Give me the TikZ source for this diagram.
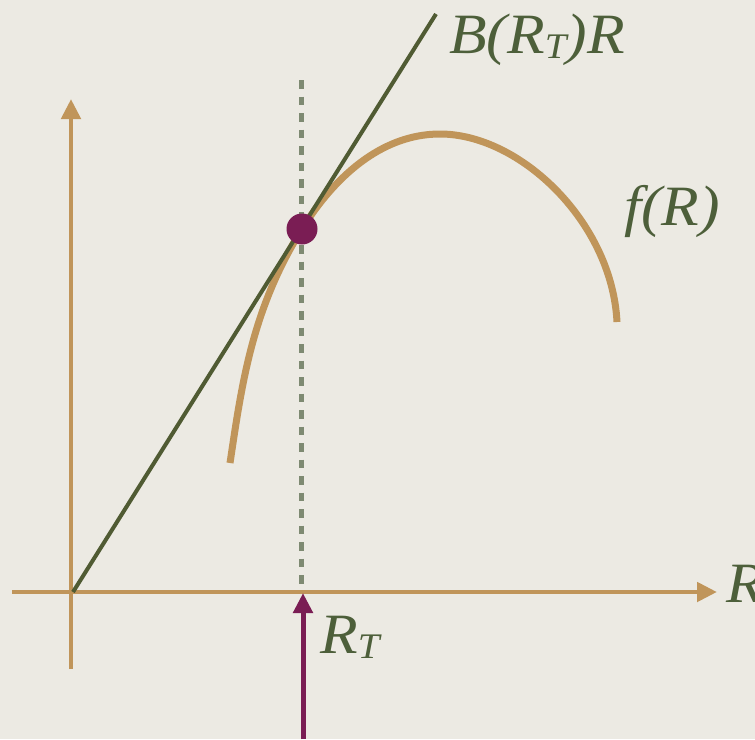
\documentclass[tikz,border=0pt]{standalone}
\usepackage{fontspec}
\setmainfont[ItalicFeatures={FakeStretch=1.08}]{Liberation Serif}
\usetikzlibrary{arrows.meta}
\definecolor{bg}{HTML}{ECEAE3}
\definecolor{tan}{HTML}{C0955A}
\definecolor{olive}{HTML}{505B33}
\definecolor{plum}{HTML}{7A1D54}
\definecolor{dotgreen}{HTML}{7E8A72}
\definecolor{txtgreen}{HTML}{4D5F3A}
\newcommand{\mysub}[1]{\raisebox{-0.2ex}{\fontsize{36}{40}\selectfont #1}}
\tikzset{
  axis/.style={draw=tan, line width=4.8pt, -{Triangle[length=20pt,width=19pt]}},
  lbl/.style={text=txtgreen, font=\fontsize{57}{60}\selectfont\itshape, inner sep=0pt, anchor=base west},
  curve/.style={draw=tan, line width=7pt},
  tangent/.style={draw=olive, line width=4pt},
  guide/.style={draw=dotgreen, line width=5pt, dash pattern=on 8.5pt off 8pt},
  marker/.style={draw=plum, line width=5pt, -{Triangle[length=20pt,width=19pt]}}
}
\begin{document}
\begin{tikzpicture}[x=1pt,y=-1pt]
\fill[bg] (0,0) rectangle (755,739);
\useasboundingbox (0,0) rectangle (755,739);
% coordinates
\coordinate (xs) at (12,592);
\coordinate (xe) at (717,592);
\coordinate (ys) at (71,669);
\coordinate (ye) at (71,99);
\coordinate (o) at (73,592);
\coordinate (te) at (436,14);
\coordinate (gs) at (301,80);
\coordinate (ge) at (301,590);
\coordinate (ms) at (303,739);
\coordinate (me) at (303,593);
\coordinate (c0) at (230,463);
\coordinate (c1) at (302,229);
\coordinate (c2) at (440,134);
\coordinate (c3) at (617,322);
% axes
\draw[axis] (xs) -- (xe);
\draw[axis] (ys) -- (ye);
% dashed guide
\draw[guide] (gs) -- (ge);
% curve f(R)
\draw[curve] (c0) .. controls (242,383) and (252,309) .. (c1)
  .. controls (333,179) and (380,134) .. (c2)
  .. controls (520,134) and (612,222) .. (c3);
% tangent line
\draw[tangent] (o) -- (te);
% point
\node[circle, fill=plum, minimum size=31pt, inner sep=0pt] (pt) at (302,229) {};
% marker arrow
\draw[marker] (ms) -- (me);
% labels
\node[lbl] (lb) at (449,53) {B(R\mysub{T})R};
\node[lbl] (lf) at (624,225) {f(R)};
\node[lbl] (lrt) at (320,653) {R\mysub{T}};
\node[lbl] (lr) at (726,602) {R};
\end{tikzpicture}
\end{document}
